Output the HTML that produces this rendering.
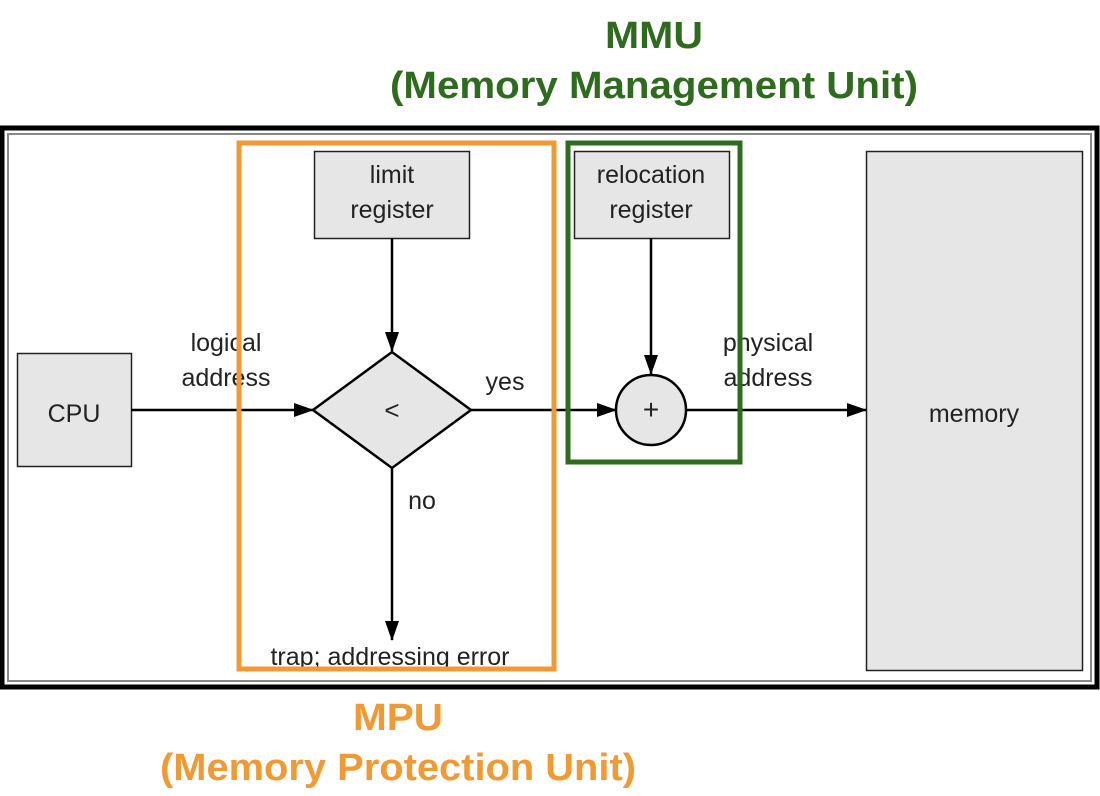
<!DOCTYPE html>
<html><head><meta charset="utf-8"><style>
html,body{margin:0;padding:0;background:#fff;width:1100px;height:796px;overflow:hidden}
svg{display:block}
</style></head><body>
<svg width="1100" height="796" viewBox="0 0 1100 796" xmlns="http://www.w3.org/2000/svg" font-family="Liberation Sans, Arial, sans-serif">
<defs>
<marker id="ahv" viewBox="0 0 20 20" markerWidth="20" markerHeight="20" refX="19" refY="10" orient="auto" markerUnits="userSpaceOnUse">
<path d="M0,3 L20,10 L0,17 z" fill="#000"/>
</marker>
</defs>
<text x="654" y="48" fill="#2f6b1f" font-weight="bold" font-size="38" text-anchor="middle" textLength="98" lengthAdjust="spacingAndGlyphs">MMU</text>
<text x="654" y="98" fill="#2f6b1f" font-weight="bold" font-size="38" text-anchor="middle" textLength="528" lengthAdjust="spacingAndGlyphs">(Memory Management Unit)</text>
<rect x="2" y="128" width="1095" height="559" fill="#fff" stroke="#000" stroke-width="5"/>
<rect x="8" y="134" width="1083" height="547" fill="none" stroke="#888" stroke-width="2"/>
<rect x="866.5" y="151.5" width="216" height="519" fill="#e6e6e6" stroke="#222" stroke-width="1.5"/>
<text x="974" y="422" font-size="25" text-anchor="middle" fill="#222">memory</text>
<rect x="17.5" y="353.5" width="114" height="113" fill="#e6e6e6" stroke="#222" stroke-width="1.5"/>
<text x="74" y="422" font-size="25" text-anchor="middle" fill="#222">CPU</text>
<rect x="314.5" y="151.5" width="155" height="87" fill="#e6e6e6" stroke="#222" stroke-width="1.5"/>
<text x="392" y="183" font-size="25" text-anchor="middle" fill="#222">limit</text>
<text x="392" y="218" font-size="25" text-anchor="middle" fill="#222">register</text>
<rect x="574.5" y="151.5" width="155" height="87" fill="#e6e6e6" stroke="#222" stroke-width="1.5"/>
<text x="651" y="183" font-size="25" text-anchor="middle" fill="#222">relocation</text>
<text x="651" y="218" font-size="25" text-anchor="middle" fill="#222">register</text>
<g stroke="#000" stroke-width="2.5" fill="none">
<line x1="131" y1="410" x2="313" y2="410" marker-end="url(#ahv)"/>
<line x1="392" y1="238" x2="392" y2="351" marker-end="url(#ahv)"/>
<line x1="471" y1="410" x2="616" y2="410" marker-end="url(#ahv)"/>
<line x1="651" y1="238" x2="651" y2="374" marker-end="url(#ahv)"/>
<line x1="686" y1="410" x2="866" y2="410" marker-end="url(#ahv)"/>
<line x1="392" y1="468" x2="392" y2="640" marker-end="url(#ahv)"/>
</g>
<polygon points="313,410 392,352 471,410 392,468" fill="#e6e6e6" stroke="#000" stroke-width="2.5"/>
<text x="392" y="419" font-size="26" text-anchor="middle" fill="#222">&lt;</text>
<circle cx="651" cy="410" r="35" fill="#e6e6e6" stroke="#000" stroke-width="2.5"/>
<text x="651" y="419" font-size="28" text-anchor="middle" fill="#222">+</text>
<text x="226" y="351" font-size="25" text-anchor="middle" fill="#222">logical</text>
<text x="226" y="386" font-size="25" text-anchor="middle" fill="#222">address</text>
<text x="505" y="390" font-size="25" text-anchor="middle" fill="#222">yes</text>
<text x="768" y="351" font-size="25" text-anchor="middle" fill="#222">physical</text>
<text x="768" y="386" font-size="25" text-anchor="middle" fill="#222">address</text>
<text x="422" y="509" font-size="25" text-anchor="middle" fill="#222">no</text>
<text x="390" y="665" font-size="25" text-anchor="middle" fill="#222">trap; addressing error</text>
<rect x="239" y="143" width="315" height="526" fill="none" stroke="#f09a35" stroke-width="5"/>
<rect x="568" y="143" width="172" height="319" fill="none" stroke="#2f6b1f" stroke-width="5"/>
<text x="398" y="730" fill="#f09a35" font-weight="bold" font-size="38" text-anchor="middle" textLength="90" lengthAdjust="spacingAndGlyphs">MPU</text>
<text x="398" y="780" fill="#f09a35" font-weight="bold" font-size="38" text-anchor="middle" textLength="476" lengthAdjust="spacingAndGlyphs">(Memory Protection Unit)</text>
</svg>
</body></html>
